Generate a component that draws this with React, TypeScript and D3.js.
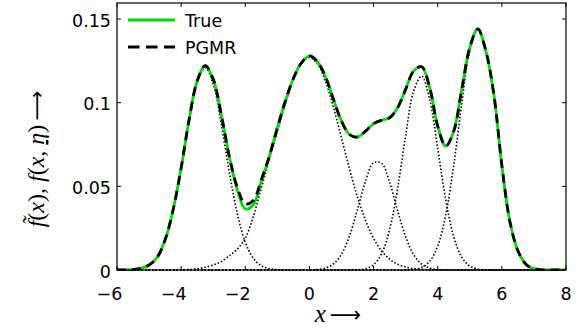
import React from 'react';
import * as d3 from 'd3';

// x grid of the curves, every 0.25
const xs = [
  -6, -5.75, -5.5, -5.25, -5, -4.75, -4.5, -4.25,
  -4, -3.75, -3.5, -3.25, -3, -2.75, -2.5, -2.25,
  -2, -1.75, -1.5, -1.25, -1, -0.75, -0.5, -0.25,
  0, 0.25, 0.5, 0.75, 1, 1.25, 1.5, 1.75,
  2, 2.25, 2.5, 2.75, 3, 3.25, 3.5, 3.75,
  4, 4.25, 4.5, 4.75, 5, 5.25, 5.5, 5.75,
  6, 6.25, 6.5, 6.75, 7, 7.25, 7.5, 7.75,
  8,
];

const trueVals = [
  0, 0.0001, 0.0003, 0.001, 0.003, 0.0075, 0.018, 0.036,
  0.061, 0.09, 0.113, 0.1222, 0.114, 0.093, 0.068, 0.048,
  0.0365, 0.039, 0.053, 0.068, 0.085, 0.101, 0.1145, 0.1238,
  0.128, 0.1245, 0.1155, 0.102, 0.089, 0.081, 0.0795, 0.083,
  0.0875, 0.0895, 0.091, 0.097, 0.108, 0.119, 0.1215, 0.109,
  0.086, 0.074, 0.083, 0.108, 0.133, 0.1441, 0.131, 0.105,
  0.0625, 0.029, 0.0115, 0.0035, 0.0008, 0.0001, 0, 0,
  0,
];

const pgmrVals = [
  0, 0.0001, 0.0003, 0.001, 0.003, 0.0075, 0.018, 0.036,
  0.061, 0.09, 0.113, 0.1222, 0.114, 0.093, 0.068, 0.0495,
  0.0395, 0.0415, 0.054, 0.068, 0.085, 0.101, 0.1145, 0.1238,
  0.128, 0.1245, 0.1155, 0.102, 0.089, 0.081, 0.0795, 0.083,
  0.0875, 0.0895, 0.091, 0.097, 0.108, 0.119, 0.1215, 0.109,
  0.086, 0.074, 0.083, 0.108, 0.133, 0.1441, 0.131, 0.105,
  0.0625, 0.029, 0.0115, 0.0035, 0.0008, 0.0001, 0, 0,
  0,
];

// dotted mixture components
const comp1 = [
  0, 0.0001, 0.0002, 0.0009, 0.0028, 0.0075, 0.0177, 0.0355,
  0.061, 0.0896, 0.1126, 0.121, 0.1112, 0.0874, 0.0588, 0.0338,
  0.0166, 0.007, 0.0025, 0.0008, 0.0002, 0, 0, 0,
  0, 0, 0, 0, 0, 0, 0, 0,
  0, 0, 0, 0, 0, 0, 0, 0,
  0, 0, 0, 0, 0, 0, 0, 0,
  0, 0, 0, 0, 0, 0, 0, 0,
  0,
];

const comp2 = [
  0, 0, 0, 0, 0, 0, 0, 0,
  0.0001, 0.0003, 0.0008, 0.0016, 0.003, 0.005, 0.0085, 0.0125,
  0.019, 0.032, 0.049, 0.066, 0.083, 0.0994, 0.1139, 0.1236,
  0.127, 0.1233, 0.1128, 0.0972, 0.0789, 0.0604, 0.0435, 0.0296,
  0.0189, 0.0114, 0.0065, 0.0035, 0.0018, 0.0008, 0.0004, 0.0002,
  0.0001, 0, 0, 0, 0, 0, 0, 0,
  0, 0, 0, 0, 0, 0, 0, 0,
  0,
];

const comp3 = [
  0, 0, 0, 0, 0, 0, 0, 0,
  0, 0, 0, 0, 0, 0, 0, 0,
  0, 0, 0, 0, 0, 0, 0, 0,
  0, 0.0003, 0.0012, 0.0036, 0.0095, 0.0204, 0.0363, 0.0531,
  0.0641, 0.0638, 0.0524, 0.0355, 0.0199, 0.0092, 0.0035, 0.0011,
  0.0003, 0, 0, 0, 0, 0, 0, 0,
  0, 0, 0, 0, 0, 0, 0, 0,
  0,
];

const comp4 = [
  0, 0, 0, 0, 0, 0, 0, 0,
  0, 0, 0, 0, 0, 0, 0, 0,
  0, 0, 0, 0, 0, 0, 0, 0,
  0, 0, 0, 0, 0, 0, 0.0001, 0.0008,
  0.0032, 0.0097, 0.0242, 0.0489, 0.0803, 0.107, 0.1158, 0.1018,
  0.0726, 0.0421, 0.0198, 0.0076, 0.0023, 0.0006, 0.0001, 0,
  0, 0, 0, 0, 0, 0, 0, 0,
  0,
];

const comp5 = [
  0, 0, 0, 0, 0, 0, 0, 0,
  0, 0, 0, 0, 0, 0, 0, 0,
  0, 0, 0, 0, 0, 0, 0, 0,
  0, 0, 0, 0, 0, 0, 0, 0,
  0, 0, 0, 0, 0, 0.0004, 0.0016, 0.0052,
  0.0144, 0.033, 0.0628, 0.0993, 0.131, 0.1435, 0.131, 0.105,
  0.0625, 0.029, 0.0115, 0.0035, 0.0008, 0.0001, 0, 0,
  0,
];

const components = [comp1, comp2, comp3, comp4, comp5];

const xTicks = [-6, -4, -2, 0, 2, 4, 6, 8];
const yTicks = [0, 0.05, 0.1, 0.15];
const yTickLabels = ['0', '0.05', '0.1', '0.15'];

const W = 584;
const H = 330;
const left = 117, right = 566, top = 3, bottom = 270;

export default function App() {
  const x = d3.scaleLinear().domain([-6, 8]).range([left, right]);
  const y = d3.scaleLinear().domain([0, 0.1596]).range([bottom, top]);

  const line = (vals: number[]) =>
    d3.line<number>()
      .x((_, i) => x(xs[i]))
      .y((d) => y(d))
      .curve(d3.curveCatmullRom.alpha(0.5))(vals) || '';

  const sans = 'DejaVu Sans, sans-serif';
  const serif = 'Liberation Serif, DejaVu Serif, serif';
  const tl = 4;

  return (
    <svg width={W} height={H} style={{ position: 'absolute', left: 0, top: 0, background: '#fff' }}>
      <defs>
        <clipPath id="plot">
          <rect x={left} y={top - 2} width={right - left} height={bottom - top + 3} />
        </clipPath>
      </defs>

      <g clipPath="url(#plot)">
        {components.map((c, i) => (
          <path key={i} d={line(c)} fill="none" stroke="#000" strokeWidth={1.6}
            strokeDasharray="1.5,2" />
        ))}
        <path d={line(trueVals)} fill="none" stroke="#00dd00" strokeWidth={2.8} />
        <path d={line(pgmrVals)} fill="none" stroke="#000" strokeWidth={2.8}
          strokeDasharray="9,6" />
      </g>

      {/* frame */}
      <rect x={left} y={top} width={right - left} height={bottom - top} fill="none"
        stroke="#000" strokeWidth={1.2} />

      {xTicks.map((t) => (
        <g key={'x' + t}>
          <line x1={x(t)} x2={x(t)} y1={bottom} y2={bottom - tl} stroke="#000" />
          <line x1={x(t)} x2={x(t)} y1={top} y2={top + tl} stroke="#000" />
          <text x={t < 0 ? x(t) + 5.4 : x(t)} y={300} textAnchor={t < 0 ? 'end' : 'middle'}
            fontFamily={sans} fontSize={17.5}>
            {t < 0 ? '\u2212' + Math.abs(t) : String(t)}
          </text>
        </g>
      ))}

      {yTicks.map((t, i) => (
        <g key={'y' + t}>
          <line x1={left} x2={left + tl} y1={y(t)} y2={y(t)} stroke="#000" />
          <line x1={right} x2={right - tl} y1={y(t)} y2={y(t)} stroke="#000" />
          <text x={111} y={y(t) + 7.5} textAnchor="end" fontFamily={sans} fontSize={17.5}>
            {yTickLabels[i]}
          </text>
        </g>
      ))}

      {/* legend */}
      <line x1={128} x2={175} y1={20} y2={20} stroke="#00dd00" strokeWidth={2.8} />
      <text x={185} y={26.5} fontFamily={sans} fontSize={17.5}>True</text>
      <line x1={128} x2={175} y1={47} y2={47} stroke="#000" strokeWidth={2.8}
        strokeDasharray="11.5,6.5" />
      <text x={185} y={53.5} fontFamily={sans} fontSize={17.5}>PGMR</text>

      {/* axis labels */}
      <text x={338} y={322} textAnchor="middle" fontFamily={serif} fontSize={25}>
        <tspan fontStyle="italic">x</tspan>
        <tspan dx={4} fontFamily={sans} fontSize={22}>{'\u27f6'}</tspan>
      </text>
      <text transform="translate(44,159) rotate(-90)" textAnchor="middle" fontFamily={serif} fontSize={24}>
        <tspan fontStyle="italic">{'f\u0303'}</tspan>(<tspan fontStyle="italic">x</tspan>),{' '}
        <tspan fontStyle="italic">f</tspan>(<tspan fontStyle="italic">x</tspan>,{' '}
        <tspan fontStyle="italic" style={{ textDecoration: 'underline' }}>{'\u03b7'}</tspan>)
        <tspan dx={4} fontFamily={sans} fontSize={21}>{'\u27f6'}</tspan>
      </text>
    </svg>
  );
}
